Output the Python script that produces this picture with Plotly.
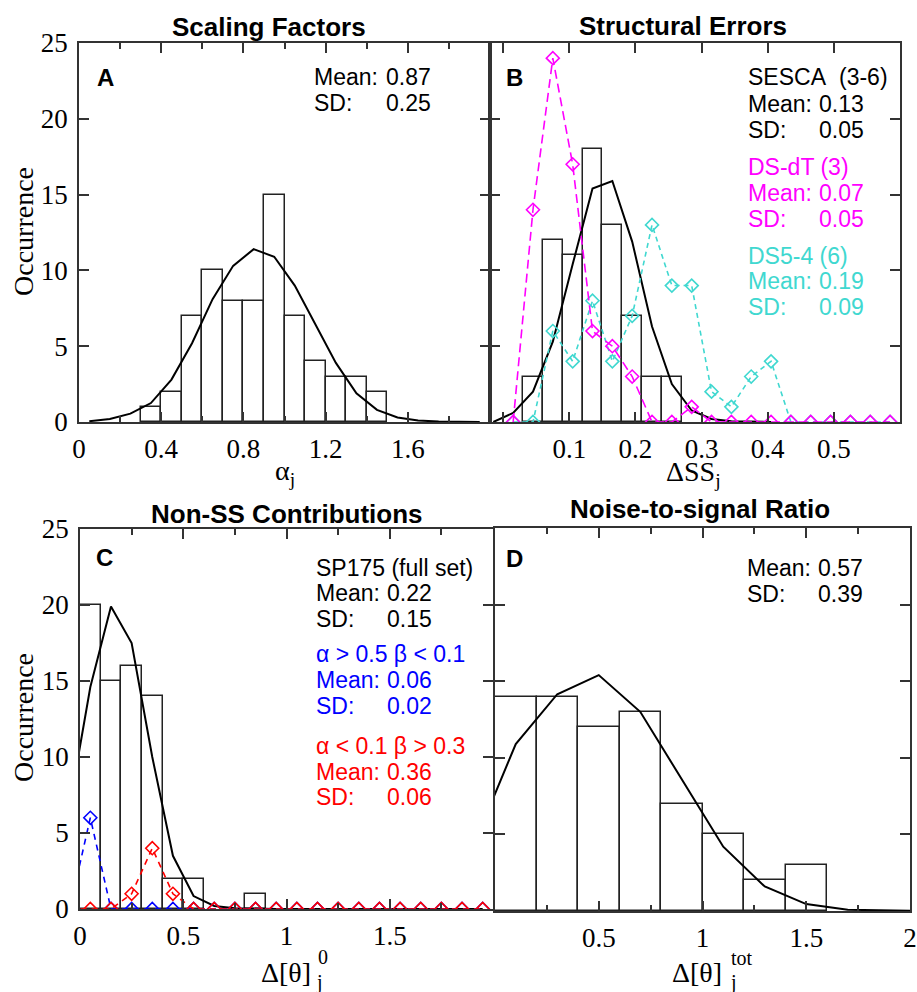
import plotly.graph_objects as go

# ---------------- DATA ----------------
# Panel A: Scaling factors
A_bin_centers = [0.35, 0.45, 0.55, 0.65, 0.75, 0.85, 0.95, 1.05, 1.15, 1.25, 1.35, 1.45]
A_counts = [1, 2, 7, 10, 8, 8, 15, 7, 4, 3, 3, 2]
A_fit_x = [0.05, 0.15, 0.25, 0.35, 0.45, 0.55, 0.65, 0.75, 0.85, 0.95,
           1.05, 1.15, 1.25, 1.35, 1.45, 1.55, 1.65, 1.75, 1.85, 1.95]
A_fit_y = [0.05, 0.2, 0.55, 1.25, 2.8, 5.2, 8.1, 10.3, 11.4, 10.9,
           9.0, 6.4, 3.9, 1.9, 0.8, 0.3, 0.1, 0.03, 0.01, 0.0]

# Panel B: Structural errors
B_bin_centers = [0.045, 0.075, 0.105, 0.135, 0.165, 0.195, 0.225, 0.255]
B_counts = [3, 12, 11, 18, 13, 7, 3, 3]
B_fit_x = [-0.015, 0.015, 0.045, 0.075, 0.105, 0.135, 0.165, 0.195, 0.225, 0.255,
           0.285, 0.315, 0.345, 0.375, 0.405]
B_fit_y = [0.0, 0.6, 2.0, 5.3, 10.4, 15.4, 15.9, 11.9, 6.3, 2.5,
           0.76, 0.2, 0.05, 0.01, 0.0]
B_series_x = [0.015, 0.045, 0.075, 0.105, 0.135, 0.165, 0.195, 0.225, 0.255, 0.285,
              0.315, 0.345, 0.375, 0.405, 0.435, 0.465, 0.495, 0.525, 0.555, 0.585]
B_dsdt = [0, 14, 24, 17, 6, 5, 3, 0, 0, 1, 0, 0, 0, 0, 0, 0, 0, 0, 0, 0]
B_ds54 = [0, 0, 6, 4, 8, 4, 7, 13, 9, 9, 2, 1, 3, 4, 0, 0, 0, 0, 0, 0]

# Panel C: Non-SS contributions
C_bin_centers = [0.05, 0.15, 0.25, 0.35, 0.45, 0.55, 0.85]
C_counts = [20, 15, 16, 14, 2, 2, 1]
C_series_x = [-0.05, 0.05, 0.15, 0.25, 0.35, 0.45, 0.55, 0.65, 0.75, 0.85, 0.95,
              1.05, 1.15, 1.25, 1.35, 1.45, 1.55, 1.65, 1.75, 1.85, 1.95]
C_fit_y = [6.8, 14.6, 19.9, 17.5, 10.0, 3.5, 0.85, 0.2, 0.05, 0.01, 0,
           0, 0, 0, 0, 0, 0, 0, 0, 0, 0]
C_alpha = [0, 6, 0, 0, 0, 0, 0, 0, 0, 0, 0, 0, 0, 0, 0, 0, 0, 0, 0, 0, 0]
C_beta = [0, 0, 0, 1, 4, 1, 0, 0, 0, 0, 0, 0, 0, 0, 0, 0, 0, 0, 0, 0, 0]

# Panel D: Noise-to-signal ratio
D_bin_centers = [0.1, 0.3, 0.5, 0.7, 0.9, 1.1, 1.3, 1.5]
D_counts = [14, 14, 12, 13, 7, 5, 2, 3]
D_fit_x = [-0.1, 0.1, 0.3, 0.5, 0.7, 0.9, 1.1, 1.3, 1.5, 1.7, 1.9, 2.1]
D_fit_y = [4.4, 10.9, 14.15, 15.4, 13.0, 8.6, 4.2, 1.6, 0.45, 0.08, 0.01, 0.0]

Y_ticks = [0, 5, 10, 15, 20, 25]

W, H = 917, 992
def px(x):
    return x / W
def py(y):
    return 1 - y / H

MAGENTA = "#FF00FF"
CYAN = "#40D8D0"
AXC = "#333333"
SERIF = "Liberation Serif"
SANS = "Liberation Sans"

fig = go.Figure()

def bars(xc, counts, width, xa, ya):
    fig.add_trace(go.Bar(x=xc, y=counts, width=[width] * len(xc),
                         marker=dict(color="white", line=dict(color="#222222", width=1.5)),
                         xaxis=xa, yaxis=ya, showlegend=False, hoverinfo="skip"))

def line(x, y, xa, ya, color="black", dash="solid", marker=False, width=2):
    fig.add_trace(go.Scatter(
        x=x, y=y, mode="lines+markers" if marker else "lines",
        line=dict(color=color, width=width, dash=dash),
        marker=dict(symbol="diamond-open", size=10, color=color, line=dict(width=1.6, color=color)),
        xaxis=xa, yaxis=ya, showlegend=False, hoverinfo="skip", cliponaxis=True))

# A
bars(A_bin_centers, A_counts, 0.1, "x", "y")
line(A_fit_x, A_fit_y, "x", "y")
# B
bars(B_bin_centers, B_counts, 0.03, "x2", "y2")
line(B_fit_x, B_fit_y, "x2", "y2")
line(B_series_x, B_ds54, "x2", "y2", color=CYAN, dash="5px,4px", marker=True, width=1.6)
line(B_series_x, B_dsdt, "x2", "y2", color=MAGENTA, dash="9px,5px", marker=True, width=1.6)
# C
bars(C_bin_centers, C_counts, 0.1, "x3", "y3")
line(C_series_x, C_fit_y, "x3", "y3")
line(C_series_x, C_alpha, "x3", "y3", color="#0000FF", dash="6px,5px", marker=True, width=1.6)
line(C_series_x, C_beta, "x3", "y3", color="#FF0000", dash="6px,5px", marker=True, width=1.6)
# D
bars(D_bin_centers, D_counts, 0.2, "x4", "y4")
line(D_fit_x, D_fit_y, "x4", "y4")

def xaxis(domain, rng, tickvals, ticktext, minor, anchor):
    d = dict(domain=domain, range=rng, anchor=anchor, showgrid=False, zeroline=False,
             showline=True, linecolor=AXC, linewidth=1.5, mirror="allticks",
             ticks="inside", ticklen=10, tickwidth=1.5, tickcolor=AXC,
             tickmode="array", tickvals=tickvals, ticktext=ticktext,
             tickfont=dict(family=SERIF, size=27, color="black"), ticklabelstandoff=2,
             automargin=False, fixedrange=True)
    if minor:
        d["minor"] = dict(tickvals=minor, ticks="inside", ticklen=6, tickwidth=1.5, tickcolor=AXC)
    return d

def yaxis(domain, anchor, labels):
    return dict(domain=domain, range=[0, 25], anchor=anchor, showgrid=False, zeroline=False,
                showline=True, linecolor=AXC, linewidth=1.5, mirror="allticks",
                ticks="inside", ticklen=10, tickwidth=1.5, tickcolor=AXC,
                tickmode="array", tickvals=Y_ticks, ticktext=[str(v) for v in Y_ticks],
                showticklabels=labels, ticklabelstandoff=4, automargin=False,
                tickfont=dict(family=SERIF, size=27, color="black"), fixedrange=True)

dA_x = [px(79), px(490)]
dB_x = [px(490), px(900)]
dC_x = [px(80), px(493)]
dD_x = [px(495), px(910)]
dTop_y = [py(422), py(43)]
dC_y = [py(909), py(529)]
dD_y = [py(911), py(528)]

fig.update_layout(
    width=W, height=H, margin=dict(l=0, r=0, t=0, b=0, pad=0, autoexpand=False),
    paper_bgcolor="white", plot_bgcolor="white", barmode="overlay", bargap=0,
    xaxis=xaxis(dA_x, [0, 2], [0, 0.4, 0.8, 1.2, 1.6, 2.0], ["0", "0.4", "0.8", "1.2", "1.6", " "],
                [0.2, 0.6, 1.0, 1.4, 1.8], "y"),
    yaxis=yaxis(dTop_y, "x", True),
    xaxis2=xaxis(dB_x, [-0.02, 0.6], [0, 0.1, 0.2, 0.3, 0.4, 0.5, 0.6],
                 [" ", "0.1", "0.2", "0.3", "0.4", "0.5", " "], None, "y2"),
    yaxis2=yaxis(dTop_y, "x2", False),
    xaxis3=xaxis(dC_x, [0, 2], [0, 0.5, 1, 1.5, 2], ["0", "0.5", "1", "1.5", " "],
                 [0.25, 0.75, 1.25, 1.75], "y3"),
    yaxis3=yaxis(dC_y, "x3", True),
    xaxis4=xaxis(dD_x, [0, 2], [0, 0.5, 1, 1.5, 2], [" ", "0.5", "1", "1.5", "2"],
                 [0.25, 0.75, 1.25, 1.75], "y4"),
    yaxis4=yaxis(dD_y, "x4", False),
)

ann = []
def text(x, y, s, size=23, color="black", family=SANS, xanchor="left", bold=False, angle=0):
    if bold:
        s = "<b>" + s + "</b>"
    ann.append(dict(x=px(x), y=py(y), xref="paper", yref="paper", text=s, showarrow=False,
                    xanchor=xanchor, yanchor="middle", textangle=angle, borderpad=0,
                    font=dict(family=family, size=size, color=color)))

# titles
text(269, 27, "Scaling Factors", size=26, xanchor="center", bold=True)
text(683, 26, "Structural Errors", size=26, xanchor="center", bold=True)
text(287, 514, "Non-SS Contributions", size=26, xanchor="center", bold=True)
text(700, 509, "Noise-to-signal Ratio", size=26, xanchor="center", bold=True)

# panel letters
text(105, 78, "A", size=24, xanchor="center", bold=True)
text(514, 77, "B", size=24, xanchor="center", bold=True)
text(104, 557, "C", size=24, xanchor="center", bold=True)
text(514, 558, "D", size=24, xanchor="center", bold=True)

# stats A
text(313, 77, "Mean:"); text(385, 77, "0.87")
text(313, 103, "SD:"); text(385, 103, "0.25")
# stats B
text(747, 77, "SESCA"); text(838, 77, "(3-6)")
text(747, 104, "Mean:"); text(818, 104, "0.13")
text(747, 130, "SD:"); text(818, 130, "0.05")
text(747, 167, "DS-dT (3)", color=MAGENTA)
text(747, 193, "Mean:", color=MAGENTA); text(818, 193, "0.07", color=MAGENTA)
text(747, 219, "SD:", color=MAGENTA); text(818, 219, "0.05", color=MAGENTA)
text(747, 256, "DS5-4 (6)", color=CYAN)
text(747, 281, "Mean:", color=CYAN); text(818, 281, "0.19", color=CYAN)
text(747, 307, "SD:", color=CYAN); text(818, 307, "0.09", color=CYAN)
# stats C
text(315, 568, "SP175 (full set)")
text(315, 593, "Mean:"); text(386, 593, "0.22")
text(315, 619, "SD:"); text(386, 619, "0.15")
text(315, 654, "α > 0.5 β < 0.1", color="#0000FF")
text(315, 680, "Mean:", color="#0000FF"); text(386, 680, "0.06", color="#0000FF")
text(315, 706, "SD:", color="#0000FF"); text(386, 706, "0.02", color="#0000FF")
text(315, 746, "α < 0.1 β > 0.3", color="#FF0000")
text(315, 772, "Mean:", color="#FF0000"); text(386, 772, "0.36", color="#FF0000")
text(315, 797, "SD:", color="#FF0000"); text(386, 797, "0.06", color="#FF0000")
# stats D
text(746, 568, "Mean:"); text(817, 568, "0.57")
text(746, 594, "SD:"); text(817, 594, "0.39")

# axis titles
text(23, 232, "Occurrence", size=28, family=SERIF, xanchor="center", angle=-90)
text(23, 718, "Occurrence", size=28, family=SERIF, xanchor="center", angle=-90)
text(285, 472, "α<sub>j</sub>", size=28, family=SERIF, xanchor="center")
text(693, 473, "ΔSS<sub>j</sub>", size=28, family=SERIF, xanchor="center")
text(286, 972, "Δ[θ]", size=28, family=SERIF, xanchor="center")
text(323, 957, "0", size=20, family=SERIF, xanchor="center")
text(319, 982, "j", size=20, family=SERIF, xanchor="center")
text(697, 972, "Δ[θ]", size=28, family=SERIF, xanchor="center")
text(742, 958, "tot", size=20, family=SERIF, xanchor="center")
text(733, 982, "j", size=20, family=SERIF, xanchor="center")

fig.update_layout(annotations=ann)
fig.write_html("out.html", config={"displayModeBar": False},
               post_script="document.body.style.margin='0px';document.body.style.overflow='hidden';")
